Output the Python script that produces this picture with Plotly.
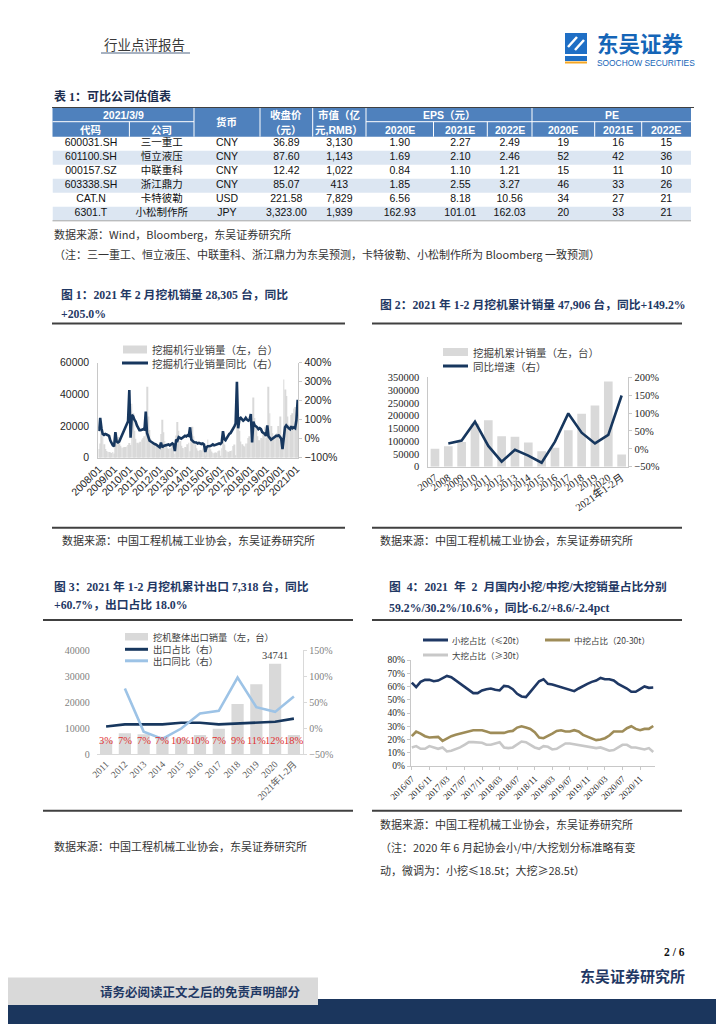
import plotly.graph_objects as go

W, H = 724, 1024
PAGE_OFF = 8  # the page body adds an 8px margin; positions below are page pixels
def X(px): return (px - PAGE_OFF) / W
def Y(py): return 1 - (py - PAGE_OFF) / H

SERIF = "Liberation Serif, Noto Sans CJK SC"
SANS = "Liberation Sans, Noto Sans CJK SC"
CJK = "Noto Sans CJK SC, Liberation Serif"
NAVY = "#1f3864"
LINE_NAVY = "#17375e"
BAR_GRAY = "#d9d9d9"
AXIS_GRAY = "#c8c8c8"

# ---------------- Table 1 data ----------------
codes = ["600031.SH", "601100.SH", "000157.SZ", "603338.SH", "CAT.N", "6301.T"]
companies = ["三一重工", "恒立液压", "中联重科", "浙江鼎力", "卡特彼勒", "小松制作所"]
currencies = ["CNY", "CNY", "CNY", "CNY", "USD", "JPY"]
close_price = ["36.89", "87.60", "12.42", "85.07", "221.58", "3,323.00"]
market_cap = ["3,130", "1,143", "1,022", "413", "7,829", "1,939"]
eps_2020 = ["1.90", "1.69", "0.84", "1.85", "6.56", "162.93"]
eps_2021 = ["2.27", "2.10", "1.10", "2.55", "8.18", "101.01"]
eps_2022 = ["2.49", "2.46", "1.21", "3.27", "10.56", "162.03"]
pe_2020 = ["19", "52", "15", "46", "34", "20"]
pe_2021 = ["16", "42", "11", "33", "27", "33"]
pe_2022 = ["15", "36", "10", "26", "21", "21"]

# ---------------- Figure 1 data (monthly, 2008/01 - 2021/02) ----------------
sales_2008 = [5500, 9000, 17000, 13500, 8500, 5500, 4300, 3700, 3600, 3300, 3000, 3600]
sales_2009 = [2600, 7500, 15500, 13000, 9000, 7500, 6500, 6300, 6800, 6800, 7000, 8000]
sales_2010 = [9300, 8000, 34000, 28000, 17000, 12000, 9500, 8500, 9500, 10000, 11500, 12500]
sales_2011 = [13500, 19500, 44800, 26000, 17500, 12000, 9000, 8000, 8500, 8000, 8500, 7500]
sales_2012 = [5500, 15000, 24000, 16000, 10500, 7500, 6000, 5500, 6000, 6000, 7500, 8000]
sales_2013 = [2500, 14000, 22500, 17000, 10500, 7500, 6200, 6000, 6800, 6500, 8500, 9500]
sales_2014 = [4000, 13500, 19500, 13500, 8500, 6000, 4600, 4300, 4900, 4600, 5800, 5900]
sales_2015 = [1200, 7500, 11500, 8500, 5300, 3900, 3200, 2800, 3300, 3200, 4100, 4500]
sales_2016 = [900, 6000, 16000, 8300, 4900, 4100, 3700, 3500, 4300, 4500, 7400, 8400]
sales_2017 = [1600, 24000, 24800, 17000, 10300, 8500, 7500, 7000, 9000, 9000, 12500, 13500]
sales_2018 = [11000, 14500, 38000, 25000, 19000, 13500, 11000, 11000, 12500, 12000, 16000, 19500]
sales_2019 = [12500, 15000, 44800, 28000, 20000, 15500, 12000, 12500, 15000, 15600, 20000, 26000]
sales_2020 = [8800, 7000, 49400, 43000, 39000, 26000, 21000, 20500, 27000, 28000, 31000, 32000]
sales_2021 = [19600, 28305]

yoy_2008 = [40, 110, 55, 25, 20, 25, 22, 20, 15, -10, -25, -35]
yoy_2009 = [-40, 35, -15, -20, -15, 0, 15, 27, 48, 62, 80, 92]
yoy_2010 = [256, 5, 125, 118, 100, 90, 70, 55, 45, 45, 48, 50]
yoy_2011 = [48, 143, 30, 5, -10, -15, -20, -25, -28, -30, -35, -40]
yoy_2012 = [-45, -20, -45, -38, -35, -35, -30, -30, -35, -28, -25, -30]
yoy_2013 = [-65, -5, -10, 8, 5, 0, 5, 12, 15, 12, 18, 15]
yoy_2014 = [60, -5, -15, -18, -20, -20, -25, -22, -25, -28, -25, -30]
yoy_2015 = [-70, -45, -40, -40, -38, -35, -30, -35, -32, -30, -30, -25]
yoy_2016 = [-28, -20, 40, -2, -8, 5, 15, 25, 30, 40, 55, 65]
yoy_2017 = [80, 300, 55, 105, 110, 100, 95, 100, 110, 100, 95, 100]
yoy_2018 = [130, -20, 90, 70, 65, 60, 50, 55, 50, 35, 30, 25]
yoy_2019 = [15, 70, 12, 5, -5, 0, 5, 12, 15, 15, 18, 10]
yoy_2020 = [0, -55, -10, 60, 70, 60, 55, 50, 65, 55, 60, 55]
yoy_2021 = [97, 205]

# ---------------- Figure 2 data (annual cumulative) ----------------
years2 = ["2007", "2008", "2009", "2010", "2011", "2012", "2013", "2014", "2015",
          "2016", "2017", "2018", "2019", "2020", "2021年1-2月"]
cum_sales2 = [70000, 80500, 96500, 168000, 182000, 119000, 117000, 95000, 60000,
              74000, 143000, 207000, 240000, 334000, 47906]
cum_yoy2 = [None, 15, 23, 76, 8, -36, -3, -19, -39, 20, 99, 45, 15, 39, 149.2]

# ---------------- Figure 3 data (exports) ----------------
years3 = ["2011", "2012", "2013", "2014", "2015", "2016", "2017", "2018", "2019",
          "2020", "2021年1-2月"]
export3 = [5300, 8000, 7600, 6600, 6000, 7300, 9700, 19200, 26800, 34741, 7318]
export_share3 = [3, 7, 7, 7, 10, 10, 7, 9, 11, 12, 18]
export_yoy3 = [None, 76, -7, -21, -1, 28, 33, 97, 40, 31, 60.7]

# ---------------- Figure 4 data (monthly share, 2016/07 - 2021/02) ----------------
small4 = [63, 59.5, 63.5, 65, 65, 64, 64.5, 66.5, 68, 67, 64.5, 62.5, 60, 57, 55, 55,
          57, 58, 58.5, 57.5, 57, 60.5, 60, 58, 54.5, 52.5, 52, 56, 60, 64, 65.5, 62,
          61.5, 60.5, 59, 58, 57.5, 56.5, 58.5, 60.5, 62, 63.5, 64.5, 66.5, 65.5, 65.5,
          64.5, 62, 60.5, 58.5, 56, 56, 58, 60, 59, 59.2]
mid4 = [22.5, 26, 24.5, 22.5, 21.5, 22, 22, 19, 21, 22.5, 23.5, 24.5, 25.5, 26.5, 27, 27,
        27, 26, 25, 25, 25, 25, 26, 26.5, 29, 30, 29, 28, 25.5, 21.5, 21, 22.5,
        24.5, 26.5, 27, 26, 26, 27, 26, 23.5, 22, 21, 19.5, 20, 21, 23,
        26, 26, 26, 28.5, 30, 28, 27, 28, 28, 30.2]
large4 = [14, 15, 13, 13, 15, 14, 13, 14, 11, 11.5, 12.5, 14, 16, 18, 18, 18,
          17.5, 16, 16, 17, 18, 14, 13.5, 14, 16, 18.5, 18, 16, 14, 13, 15, 14.5,
          12.5, 13, 15, 17, 17, 16.5, 15.5, 15.5, 14.5, 14, 13.5, 14, 12.5, 11.5,
          12, 14, 16, 16, 14, 14, 13, 12.5, 13.5, 10.6]

# ---------------- derived category labels ----------------
sales1 = (sales_2008 + sales_2009 + sales_2010 + sales_2011 + sales_2012 + sales_2013 +
          sales_2014 + sales_2015 + sales_2016 + sales_2017 + sales_2018 + sales_2019 +
          sales_2020 + sales_2021)
yoy1 = (yoy_2008 + yoy_2009 + yoy_2010 + yoy_2011 + yoy_2012 + yoy_2013 + yoy_2014 +
        yoy_2015 + yoy_2016 + yoy_2017 + yoy_2018 + yoy_2019 + yoy_2020 + yoy_2021)
months1 = [f"{y}/{m:02d}" for y in range(2008, 2022) for m in range(1, 13)][:len(sales1)]
jan_ticks1 = [m for m in months1 if m.endswith("/01")]

months4 = [f"{y}/{m:02d}" for y in range(2016, 2022) for m in range(1, 13)]
months4 = months4[months4.index("2016/07"):months4.index("2021/02") + 1]
ticks4 = months4[::4]

fig = go.Figure()

# ---------------- Table body on a hidden cartesian grid ----------------
TBL_L, TBL_R = 52.5, 691.0
col_edges = [TBL_L, 129.4, 194, 260, 312.7, 366, 433.5, 487.3, 532, 594.7, 641.7, TBL_R]
col_centers = [(a + b) / 2 for a, b in zip(col_edges[:-1], col_edges[1:])]
table_cols = [codes, companies, currencies, close_price, market_cap, eps_2020,
              eps_2021, eps_2022, pe_2020, pe_2021, pe_2022]
stripe_rows = [i for i in range(len(codes)) if i % 2 == 1]
fig.add_trace(go.Bar(y=stripe_rows, x=[TBL_R - TBL_L] * len(stripe_rows), base=TBL_L,
                     orientation="h", width=1, marker_color="#dce6f2", marker_line_width=0,
                     xaxis="x5", yaxis="y8", showlegend=False, hoverinfo="skip"))
cell_x, cell_y, cell_t = [], [], []
for cx, col in zip(col_centers, table_cols):
    for r, v in enumerate(col):
        cell_x.append(cx)
        cell_y.append(r)
        cell_t.append(v)
fig.add_trace(go.Scatter(x=cell_x, y=cell_y, text=cell_t, mode="text", xaxis="x5", yaxis="y8",
                         textposition="middle center", cliponaxis=False, showlegend=False,
                         textfont=dict(family=SANS, size=10.5, color="#111111")))

# ---------------- Figure 1 traces ----------------
fig.add_trace(go.Bar(x=months1, y=sales1, xaxis="x", yaxis="y", marker_color=BAR_GRAY,
                     marker_line_width=0, showlegend=False))
fig.add_trace(go.Scatter(x=months1, y=yoy1, xaxis="x", yaxis="y2", mode="lines",
                         line=dict(color=LINE_NAVY, width=2.6), showlegend=False))

# ---------------- Figure 2 traces ----------------
fig.add_trace(go.Bar(x=years2, y=cum_sales2, xaxis="x2", yaxis="y3", marker_color=BAR_GRAY,
                     marker_line_width=0, showlegend=False))
fig.add_trace(go.Scatter(x=years2, y=cum_yoy2, xaxis="x2", yaxis="y4", mode="lines",
                         line=dict(color=LINE_NAVY, width=2.6), showlegend=False))

# ---------------- Figure 3 traces ----------------
fig.add_trace(go.Bar(x=years3, y=export3, xaxis="x3", yaxis="y5", marker_color=BAR_GRAY,
                     marker_line_width=0, showlegend=False,
                     text=[f"{v}" if v == max(export3) else "" for v in export3],
                     textposition="outside", cliponaxis=False, constraintext="none",
                     textfont=dict(family=SERIF, size=10.5, color="#404040")))
fig.add_trace(go.Scatter(x=years3, y=export_share3, xaxis="x3", yaxis="y6", mode="lines",
                         line=dict(color=LINE_NAVY, width=2.6), showlegend=False))
fig.add_trace(go.Scatter(x=years3, y=export_yoy3, xaxis="x3", yaxis="y6", mode="lines",
                         line=dict(color="#9dc3e6", width=2.6), showlegend=False))

# ---------------- Figure 4 traces ----------------
fig.add_trace(go.Scatter(x=months4, y=small4, xaxis="x4", yaxis="y7", mode="lines",
                         line=dict(color="#1f3864", width=2.6), showlegend=False))
fig.add_trace(go.Scatter(x=months4, y=mid4, xaxis="x4", yaxis="y7", mode="lines",
                         line=dict(color="#9e8c58", width=2.6), showlegend=False))
fig.add_trace(go.Scatter(x=months4, y=large4, xaxis="x4", yaxis="y7", mode="lines",
                         line=dict(color="#c8c8c8", width=2.6), showlegend=False))

def tf(family, size, color="#262626"):
    return dict(family=family, size=size, color=color)

layout = dict(
    width=W, height=H, margin=dict(l=0, r=0, t=0, b=0, autoexpand=False),
    paper_bgcolor="white", plot_bgcolor="rgba(0,0,0,0)", showlegend=False,
    bargap=0.35,
    # Figure 1
    xaxis=dict(domain=[X(98.3), X(298.3)], anchor="y", type="category", automargin=False,
               range=[-0.5, len(months1) - 0.5], tickmode="array",
               tickvals=jan_ticks1, ticktext=jan_ticks1, tickangle=-45,
               tickfont=tf(SANS, 10.5), showline=True, linecolor=AXIS_GRAY,
               ticks="", showgrid=False),
    yaxis=dict(domain=[Y(457.7), Y(362.7)], anchor="x", range=[0, 60000], automargin=False,
               tickvals=[0, 20000, 40000, 60000], tickformat="d",
               showgrid=False, zeroline=False, showline=True, linecolor=AXIS_GRAY,
               tickfont=tf(SANS, 10.5), ticks="", ticklabelstandoff=6),
    yaxis2=dict(overlaying="y", side="right", anchor="x", range=[-100, 400], dtick=100,
                automargin=False,
                ticksuffix="%", showgrid=False, zeroline=False, showline=True,
                linecolor=AXIS_GRAY, ticks="outside", ticklen=3, tickcolor=AXIS_GRAY,
                tickfont=tf(SANS, 10.5)),
    # Figure 2
    xaxis2=dict(domain=[X(428.3), X(628.3)], anchor="y3", type="category", automargin=False,
                range=[-0.5, len(years2) - 0.5], dtick=1, tickangle=-35,
                tickfont=tf(SERIF, 10.5), showline=True, linecolor=AXIS_GRAY,
                ticks="", showgrid=False),
    yaxis3=dict(domain=[Y(466.7), Y(377.3)], anchor="x2", range=[0, 350000], dtick=50000,
                automargin=False,
                tickformat="d", showgrid=False, zeroline=False, showline=True,
                linecolor=AXIS_GRAY, ticks="", tickfont=tf(SERIF, 10.5), ticklabelstandoff=6),
    yaxis4=dict(overlaying="y3", side="right", anchor="x2", range=[-50, 200], dtick=50,
                automargin=False,
                ticksuffix="%", showgrid=False, zeroline=False, showline=True,
                linecolor=AXIS_GRAY, ticks="outside", ticklen=3, tickcolor=AXIS_GRAY,
                tickfont=tf(SERIF, 10.5)),
    # Figure 3
    xaxis3=dict(domain=[X(96.7), X(303.3)], anchor="y5", type="category", automargin=False,
                range=[-0.5, len(years3) - 0.5], dtick=1, tickangle=-45,
                tickfont=tf(SERIF, 9.5, "#595959"), showline=True, linecolor="#d9d9d9",
                ticks="", showgrid=False),
    yaxis5=dict(domain=[Y(754), Y(650)], anchor="x3", range=[0, 40000], dtick=10000,
                automargin=False,
                tickformat="d", showgrid=False, zeroline=False, showline=False,
                ticks="", tickfont=tf(SERIF, 10, "#7f7f7f"), ticklabelstandoff=6),
    yaxis6=dict(overlaying="y5", side="right", anchor="x3", range=[-50, 150], dtick=50,
                automargin=False,
                ticksuffix="%", showgrid=False, zeroline=False, showline=True,
                linecolor="#d9d9d9", ticks="outside", ticklen=3, tickcolor="#d9d9d9",
                tickfont=tf(SERIF, 10, "#7f7f7f")),
    # Figure 4
    xaxis4=dict(domain=[X(410.7), X(655)], anchor="y7", type="category", automargin=False,
                range=[-0.25, len(months4) - 0.6], tickmode="array", tickvals=ticks4,
                ticktext=ticks4, tickangle=-45, tickfont=tf(SERIF, 9),
                showline=True, linecolor=AXIS_GRAY, ticks="outside", ticklen=3,
                tickcolor=AXIS_GRAY, showgrid=False),
    yaxis7=dict(domain=[Y(766), Y(660)], anchor="x4", range=[0, 80], dtick=10,
                automargin=False,
                ticksuffix="%", showgrid=False, zeroline=False, showline=True,
                linecolor=AXIS_GRAY, ticks="outside", ticklen=3, tickcolor=AXIS_GRAY,
                tickfont=tf(SERIF, 9.5)),
    # Table grid (hidden)
    xaxis5=dict(domain=[X(TBL_L), X(TBL_R)], anchor="y8", range=[TBL_L, TBL_R],
                visible=False, automargin=False, fixedrange=True),
    yaxis8=dict(domain=[Y(220.8), Y(136.7)], anchor="x5", range=[len(codes) - 0.5, -0.5],
                visible=False, automargin=False, fixedrange=True),
)
fig.update_layout(**layout)

shapes = []
annotations = []

def txt(x, y, s, size, color="#262626", family=CJK, bold=False, xanchor="left"):
    annotations.append(dict(
        x=X(x), y=Y(y), xref="paper", yref="paper",
        text=f"<b>{s}</b>" if bold else s, showarrow=False, xanchor=xanchor,
        yanchor="middle", font=dict(family=family, size=size, color=color)))

def hline(x0, x1, y, color="#404040", width=2):
    shapes.append(dict(type="line", xref="paper", yref="paper", x0=X(x0), x1=X(x1),
                       y0=Y(y), y1=Y(y), line=dict(color=color, width=width)))

def vline(x, y0, y1, color="#ffffff", width=1):
    shapes.append(dict(type="line", xref="paper", yref="paper", x0=X(x), x1=X(x),
                       y0=Y(y0), y1=Y(y1), line=dict(color=color, width=width)))

def rect(x0, y0, x1, y1, fill, layer="below"):
    shapes.append(dict(type="rect", xref="paper", yref="paper", x0=X(x0), x1=X(x1),
                       y0=Y(y1), y1=Y(y0), fillcolor=fill,
                       line=dict(width=0, color=fill), layer=layer))

# ---------------- Page header ----------------
txt(102, 44, "行业点评报告", 13.5, "#3a3a3a")
hline(101, 190, 53, "#8a98ad", 1.5)
rect(565, 33, 587, 54, "#1f6fc5")
shapes.append(dict(type="path", xref="paper", yref="paper",
                   path=f"M {X(568)} {Y(47)} L {X(577)} {Y(37)} M {X(575)} {Y(50)} L {X(584)} {Y(40)}",
                   line=dict(color="white", width=2.5)))
rect(565, 56, 587, 61, "#1f6fc5")
rect(565, 61.5, 587, 63.5, "#f5a623")
txt(595, 42.5, "东吴证券", 21.5, "#1565b7", CJK, bold=True)
txt(595, 62.5, "SOOCHOW SECURITIES", 8.4, "#1565b7", "Liberation Sans")

# ---------------- Table header (drawn) ----------------
txt(52, 96, "表 1：可比公司估值表", 12, "#1c2d4f", SERIF, bold=True)
hline(52, 694, 107.5, "#404040", 1.2)
rect(TBL_L, 108, TBL_R, 136.7, "#4f81bd")
hline(TBL_L, col_edges[2], 121.7, "#ffffff", 1)
hline(col_edges[5], TBL_R, 121.7, "#ffffff", 1)
for i in [2, 3, 4, 5, 8]:
    vline(col_edges[i], 108, 136.7)
for i in [1, 6, 7, 9, 10]:
    vline(col_edges[i], 121.7, 136.7)
HF = "Liberation Sans, Noto Sans CJK SC"
hc = "#ffffff"
txt((col_edges[0] + col_edges[2]) / 2, 114.8, "2021/3/9", 10.5, hc, HF, True, "center")
txt(col_centers[0], 129.5, "代码", 10.5, hc, HF, True, "center")
txt(col_centers[1], 129.5, "公司", 10.5, hc, HF, True, "center")
txt(col_centers[2], 122.2, "货币", 10.5, hc, HF, True, "center")
txt(col_centers[3], 114.8, "收盘价", 10.5, hc, HF, True, "center")
txt(col_centers[3], 129.5, "（元）", 10.5, hc, HF, True, "center")
txt(col_centers[4], 114.8, "市值（亿", 10.5, hc, HF, True, "center")
txt(col_centers[4], 129.5, "元,RMB）", 10.5, hc, HF, True, "center")
txt((col_edges[5] + col_edges[8]) / 2, 114.8, "EPS（元）", 10.5, hc, HF, True, "center")
txt((col_edges[8] + col_edges[11]) / 2, 114.8, "PE", 10.5, hc, HF, True, "center")
for i, lab in zip(range(5, 11), ["2020E", "2021E", "2022E", "2020E", "2021E", "2022E"]):
    txt(col_centers[i], 129.5, lab, 10.5, hc, HF, True, "center")
hline(TBL_L, TBL_R, 220.8, "#a6a6a6", 1)
txt(52, 234, "数据来源：Wind，Bloomberg，东吴证券研究所", 11, "#333333", CJK)
txt(52, 254, "（注：三一重工、恒立液压、中联重科、浙江鼎力为东吴预测，卡特彼勒、小松制作所为 Bloomberg 一致预测）",
    11, "#333333", CJK)

# ---------------- Figure titles and frame lines ----------------
TS = 11.8
txt(59, 295, "图 1：2021 年 2 月挖机销量 28,305 台，同比", TS, NAVY, SERIF, True)
txt(59, 313.5, "+205.0%", TS, NAVY, SERIF, True)
hline(52, 345, 323.5)
txt(378, 305, "图 2：2021 年 1-2 月挖机累计销量 47,906 台，同比+149.2%", TS, NAVY, SERIF, True)
hline(372, 682, 323.5)
hline(52, 345, 527.8)
hline(372, 682, 527.8)
txt(60, 540, "数据来源：中国工程机械工业协会，东吴证券研究所", 11, "#333333", CJK)
txt(378, 540, "数据来源：中国工程机械工业协会，东吴证券研究所", 11, "#333333", CJK)

txt(52, 586.7, "图 3：2021 年 1-2 月挖机累计出口 7,318 台，同比", TS, NAVY, SERIF, True)
txt(52, 605, "+60.7%，出口占比 18.0%", TS, NAVY, SERIF, True)
hline(43, 353, 620)
txt(387, 586.7, "图  4：2021  年  2  月国内小挖/中挖/大挖销量占比分别", TS, NAVY, SERIF, True)
txt(387, 608.3, "59.2%/30.2%/10.6%，同比-6.2/+8.6/-2.4pct", TS, NAVY, SERIF, True)
hline(372, 682, 620)
hline(43, 353, 810.7)
hline(372, 682, 810.7)
txt(52, 846, "数据来源：中国工程机械工业协会，东吴证券研究所", 11, "#333333", CJK)
txt(378, 824, "数据来源：中国工程机械工业协会，东吴证券研究所", 11, "#333333", CJK)
txt(378, 847, "（注：2020 年 6 月起协会小/中/大挖划分标准略有变", 11, "#333333", CJK)
txt(378, 870, "动，微调为：小挖≤18.5t；大挖≥28.5t）", 11, "#333333", CJK)

# ---------------- Legends (drawn) ----------------
LG = "#404040"
rect(123, 345.5, 147, 353.5, BAR_GRAY)
txt(150, 349.5, "挖掘机行业销量（左，台）", 10.5, LG)
hline(122, 148, 363, LINE_NAVY, 3)
txt(150, 363, "挖掘机行业销量同比（右）", 10.5, LG)

rect(443, 348, 468, 356, BAR_GRAY)
txt(471, 352, "挖掘机累计销量（左，台）", 10.5, LG)
hline(443, 468, 366, LINE_NAVY, 3)
txt(471, 366, "同比增速（右）", 10.5, LG)

rect(125, 633, 148, 640.5, BAR_GRAY)
txt(151, 636.7, "挖机整体出口销量（左，台）", 9.3, LG)
hline(125, 148, 649.3, LINE_NAVY, 3)
txt(151, 649.3, "出口占比（右）", 9.3, LG)
hline(125, 148, 660.8, "#9dc3e6", 3)
txt(151, 660.8, "出口同比（右）", 9.3, LG)

hline(423, 448, 640, "#1f3864", 3)
txt(450, 640, "小挖占比（≤20t）", 8.5, LG)
hline(545, 570, 640, "#9e8c58", 3)
txt(572, 640, "中挖占比（20-30t）", 8.5, LG)
hline(423, 448, 655, "#c8c8c8", 3)
txt(450, 655, "大挖占比（≥30t）", 8.5, LG)

# export share labels (red) under the bars of Figure 3 (category index positions)
for i, share in enumerate(export_share3):
    annotations.append(dict(x=i, xref="x3", y=Y(740.7), yref="paper", text=f"{share}%",
                            showarrow=False, xanchor="center", yanchor="middle",
                            font=dict(family=SERIF, size=10.5, color="#e03030")))

# ---------------- Footer ----------------
txt(687, 951.5, "2 / 6", 11.5, "#111111", SERIF, True, "right")
txt(687, 975.5, "东吴证券研究所", 15, NAVY, CJK, True, "right")
rect(0, 999, 740, 1040, "#1b365d")
rect(0, 977.5, 318, 1005, "#d9d9d9")
txt(98, 991, "请务必阅读正文之后的免责声明部分", 12.5, NAVY, CJK, True)

fig.update_layout(shapes=shapes, annotations=annotations)
fig.write_html("out.html")
